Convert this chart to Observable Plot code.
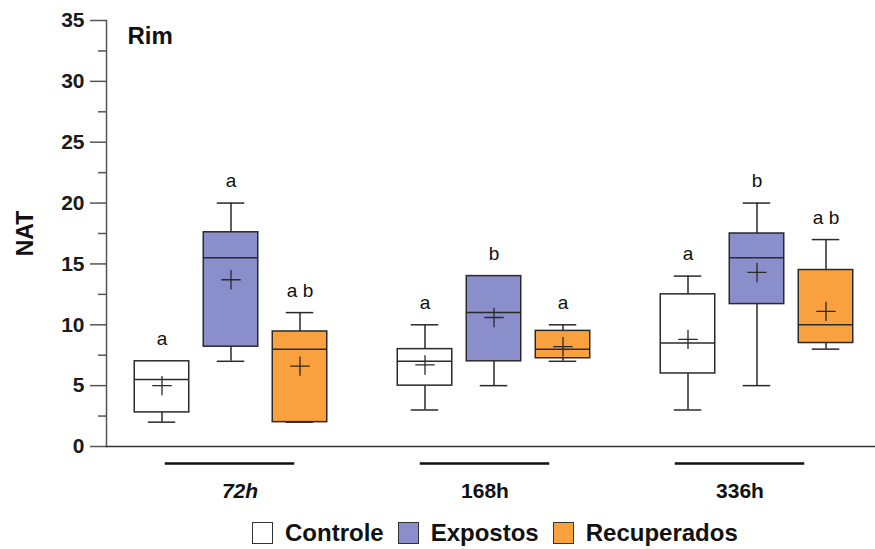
<!DOCTYPE html>
<html>
<head>
<meta charset="utf-8">
<script src="https://cdn.jsdelivr.net/npm/d3@7"></script>
<script src="https://cdn.jsdelivr.net/npm/@observablehq/plot@0.6"></script>
<style>
  html, body { margin: 0; padding: 0; background: #fff; }
  body { width: 875px; height: 549px; overflow: hidden; font-family: "Liberation Sans", Arial, sans-serif; }
  svg { display: block; }
  #legend { display: flex; align-items: center; margin-left: 252px; margin-top: 13px; height: 30px;
            font-weight: bold; font-size: 24px; color: #111; }
  .sw { width: 21px; height: 22px; box-sizing: border-box; border: 1.5px solid #333; margin-right: 12px; }
  .lab { margin-right: 14px; }
</style>
</head>
<body>
<div id="chart"></div>
<div id="groups"></div>
<div id="legend"></div>
<script>
// ---- data ----
const times = ["72h", "168h", "336h"];
const treatments = ["Controle", "Expostos", "Recuperados"];
const yTicks = [0, 5, 10, 15, 20, 25, 30, 35];
const yMinorTicks = [2.5, 7.5, 12.5, 17.5, 22.5, 27.5, 32.5];

// Controle
const controleLow    = [2, 3, 3];
const controleQ1     = [2.8, 5, 6];
const controleMedian = [5.5, 7, 8.5];
const controleQ3     = [7, 8, 12.5];
const controleHigh   = [7, 10, 14];
const controleMean   = [5.0, 6.7, 8.8];
const controleLetter = ["a", "a", "a"];

// Expostos
const expostosLow    = [7, 5, 5];
const expostosQ1     = [8.2, 7, 11.7];
const expostosMedian = [15.5, 11, 15.5];
const expostosQ3     = [17.6, 14, 17.5];
const expostosHigh   = [20, 14, 20];
const expostosMean   = [13.7, 10.6, 14.3];
const expostosLetter = ["a", "b", "b"];

// Recuperados
const recuperadosLow    = [2, 7, 8];
const recuperadosQ1     = [2, 7.25, 8.5];
const recuperadosMedian = [8, 8, 10];
const recuperadosQ3     = [9.45, 9.5, 14.5];
const recuperadosHigh   = [11, 10, 17];
const recuperadosMean   = [6.6, 8.2, 11.1];
const recuperadosLetter = ["a b", "a", "a b"];

// ---- build table ----
const series = {
  Controle:    [controleLow, controleQ1, controleMedian, controleQ3, controleHigh, controleMean, controleLetter],
  Expostos:    [expostosLow, expostosQ1, expostosMedian, expostosQ3, expostosHigh, expostosMean, expostosLetter],
  Recuperados: [recuperadosLow, recuperadosQ1, recuperadosMedian, recuperadosQ3, recuperadosHigh, recuperadosMean, recuperadosLetter]
};
function rowsFor(t) {
  const [lo, q1, md, q3, hi, mn, lt] = series[t];
  return times.map((time, i) => ({time, treatment: t, low: lo[i], q1: q1[i], median: md[i], q3: q3[i], high: hi[i], mean: mn[i], letter: lt[i]}));
}

// ---- styles ----
const fills = {Controle: "#ffffff", Expostos: "#8a8ecb", Recuperados: "#f9a03f"};
const offsets = {Controle: -69, Expostos: 0, Recuperados: 69};
const ink = "#2a2a2a";
const boxInset = 104.25;
const capInset = 117.75;

const treatmentMarks = treatments.flatMap(t => {
  const data = rowsFor(t);
  const dx = offsets[t];
  return [
    Plot.ruleX(data, {x: "time", y1: "low", y2: "high", dx, stroke: ink, strokeWidth: 1.5}),
    Plot.tickY(data, {x: "time", y: "low", dx, insetLeft: capInset, insetRight: capInset, stroke: ink, strokeWidth: 1.5}),
    Plot.tickY(data, {x: "time", y: "high", dx, insetLeft: capInset, insetRight: capInset, stroke: ink, strokeWidth: 1.5}),
    Plot.barY(data, {x: "time", y1: "q1", y2: "q3", dx, insetLeft: boxInset, insetRight: boxInset, fill: fills[t], stroke: ink, strokeWidth: 1.5}),
    Plot.tickY(data, {x: "time", y: "median", dx, insetLeft: boxInset, insetRight: boxInset, stroke: ink, strokeWidth: 1.5}),
    Plot.dot(data, {x: "time", y: "mean", dx, symbol: "plus", r: 6.3, stroke: ink, strokeWidth: 1.3}),
    Plot.text(data, {x: "time", y: "high", text: "letter", dx, dy: -16, lineAnchor: "bottom", fontSize: 19, fill: "#111"})
  ];
});

const chart = Plot.plot({
  width: 875, height: 455,
  marginLeft: 106, marginRight: 0, marginTop: 20, marginBottom: 9,
  style: {fontFamily: "'Liberation Sans', Arial, sans-serif", background: "white", overflow: "visible"},
  x: {type: "band", domain: times, range: [98.25, 888.75], padding: 0, axis: null},
  y: {domain: [0, 35], axis: null},
  marks: [
    Plot.axisY({ticks: yTicks, tickSize: 16, tickPadding: 6, fontSize: 21, fontWeight: "bold", stroke: "#555", fill: "#1a1a1a", strokeWidth: 1.5, label: null}),
    Plot.axisY({ticks: yMinorTicks, tickSize: 8, tickFormat: () => "", stroke: "#555", strokeWidth: 1.5, label: null}),
    Plot.frame({anchor: "left", stroke: "#555", strokeWidth: 1.5}),
    Plot.frame({anchor: "bottom", stroke: "#333", strokeWidth: 1.5}),
    ...treatmentMarks,
    Plot.text(["Rim"], {frameAnchor: "top-left", dx: 21, dy: 6, lineAnchor: "top", fontSize: 24, fontWeight: "bold", fill: "#111"}),
    Plot.text(["NAT"], {frameAnchor: "left", dx: -81, rotate: -90, textAnchor: "middle", lineAnchor: "middle", fontSize: 23, fontWeight: "bold", fill: "#111"})
  ]
});
document.getElementById("chart").append(chart);

// group lines and labels under the axis
const groups = Plot.plot({
  width: 875, height: 50,
  marginLeft: 106, marginRight: 0, marginTop: 0, marginBottom: 0,
  style: {fontFamily: "'Liberation Sans', Arial, sans-serif", background: "white", overflow: "visible"},
  x: {type: "band", domain: times, range: [101.25, 867.75], padding: 0, axis: null},
  y: {domain: [0, 1], range: [8, 42], axis: null},
  marks: [
    Plot.tickY(times, {x: d => d, y: () => 0, insetLeft: 62.75, insetRight: 62.75, stroke: "#111", strokeWidth: 2.5}),
    Plot.text(times, {filter: d => d === "72h", x: d => d, y: () => 1, dx: 10, lineAnchor: "bottom", fontSize: 21, fontWeight: "bold", fontStyle: "italic", fill: "#111"}),
    Plot.text(times, {filter: d => d !== "72h", x: d => d, y: () => 1, lineAnchor: "bottom", fontSize: 21, fontWeight: "bold", fill: "#111"})
  ]
});
document.getElementById("groups").append(groups);

// legend
const legend = document.getElementById("legend");
treatments.forEach(t => {
  const sw = document.createElement("span");
  sw.className = "sw";
  sw.style.background = fills[t];
  const lab = document.createElement("span");
  lab.className = "lab";
  lab.textContent = t;
  legend.append(sw, lab);
});
</script>
</body>
</html>
